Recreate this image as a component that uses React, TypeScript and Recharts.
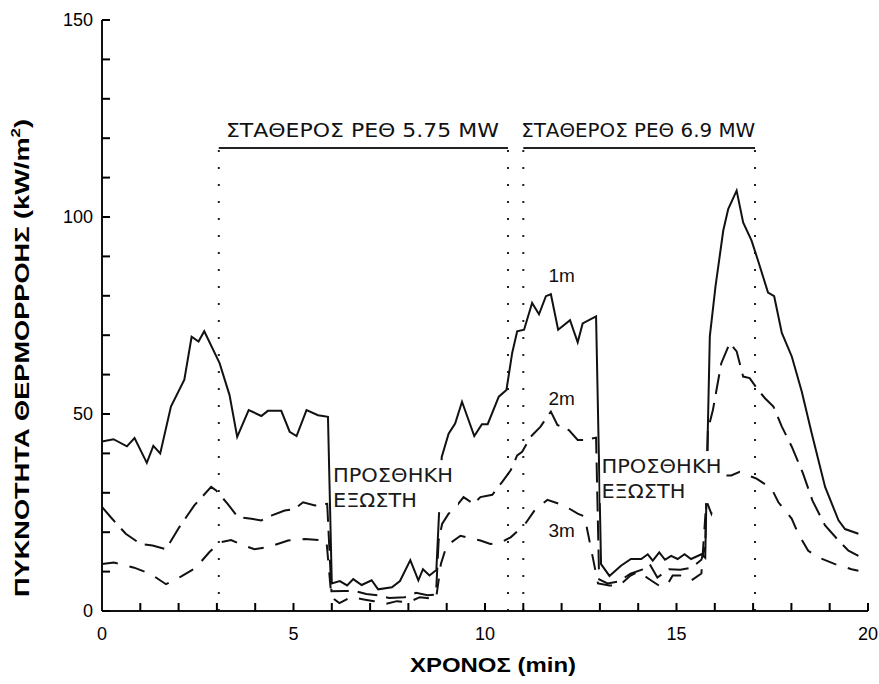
import React from "react";
import { LineChart, Line, XAxis, YAxis, ReferenceLine, ReferenceDot } from "recharts";

// time (min) and heat flux (kW/m2) at 1 m, 2 m and 3 m
const t1m = [0, 0.3, 0.65, 0.85, 1.17, 1.34, 1.52, 1.8, 2.15, 2.34, 2.52, 2.67, 3.07, 3.33, 3.53, 3.83, 4.16, 4.33, 4.68, 4.9, 5.08, 5.34, 5.64, 5.9, 6.0, 6.21, 6.4, 6.56, 6.78, 7.04, 7.21, 7.57, 7.78, 8.05, 8.26, 8.38, 8.55, 8.73, 8.87, 9.05, 9.22, 9.4, 9.72, 9.92, 10.07, 10.36, 10.56, 10.71, 10.84, 11.02, 11.23, 11.41, 11.59, 11.72, 11.91, 12.22, 12.42, 12.55, 12.9, 13.03, 13.25, 13.55, 13.81, 14.08, 14.25, 14.38, 14.55, 14.7, 14.86, 15.03, 15.21, 15.38, 15.65, 15.75, 15.81, 15.87, 16.02, 16.22, 16.35, 16.57, 16.74, 16.96, 17.13, 17.39, 17.55, 17.75, 18.01, 18.27, 18.53, 18.88, 19.23, 19.4, 19.75];
const q1m = [43, 43.6, 41.8, 43.9, 37.6, 41.9, 40, 51.9, 58.7, 69.6, 68.4, 71, 62.9, 54.8, 44.2, 51, 49.5, 50.8, 50.8, 45.5, 44.4, 51, 49.7, 49.3, 7, 7.6, 6.5, 8.1, 6.6, 7.8, 5.5, 6, 7.6, 12.9, 7.8, 10.6, 9, 10.4, 39.1, 45, 47.6, 53.1, 44.4, 47.4, 47.4, 54.4, 56.1, 65.5, 71, 71.4, 78.2, 75.3, 79.9, 80.4, 71.4, 73.8, 68.2, 73, 74.8, 11.9, 8.9, 11.5, 13.2, 13.2, 14.4, 12.8, 14.9, 13, 14, 13.2, 14.4, 13.2, 14.4, 13.5, 42.5, 69.7, 82.5, 96.5, 102, 106.7, 98.6, 94, 88.9, 80.8, 79.9, 70.6, 64.6, 55.7, 45.1, 31.5, 23, 20.8, 19.6];

const t2m = [0, 0.23, 0.62, 1.01, 1.32, 1.67, 2.02, 2.41, 2.85, 2.98, 3.28, 3.55, 3.9, 4.16, 4.42, 4.77, 5.03, 5.25, 5.56, 5.88, 5.99, 6.3, 6.6, 6.9, 7.2, 7.5, 7.9, 8.2, 8.5, 8.72, 8.79, 8.88, 9.05, 9.27, 9.44, 9.7, 9.88, 10.19, 10.45, 10.67, 10.84, 10.97, 11.19, 11.45, 11.72, 11.89, 12.19, 12.42, 12.59, 12.9, 12.98, 13.2, 13.5, 13.8, 14.1, 14.3, 14.5, 14.8, 15.1, 15.4, 15.65, 15.75, 15.82, 15.95, 16.17, 16.39, 16.57, 16.74, 16.91, 17.13, 17.31, 17.53, 17.75, 18.01, 18.3, 18.55, 18.88, 19.23, 19.49, 19.75];
const q2m = [26.4, 23.8, 19.6, 17, 16.6, 15.7, 21.3, 26.8, 31.5, 30.6, 27.2, 23.8, 23.4, 23, 24.2, 25.5, 25.9, 27.6, 26.8, 27.2, 5, 5.1, 5.1, 4.3, 4, 3.3, 3.5, 4.6, 4, 4.2, 17.9, 22.1, 24.7, 26.8, 28.9, 27.2, 28.9, 29.5, 32.8, 35.7, 39.5, 40.4, 44.2, 46.8, 50.6, 47.2, 45.9, 43.4, 43.4, 44, 8, 7, 7.5, 9.5, 10.5, 11.9, 8.5, 10.6, 10.5, 11, 13, 16.2, 45.9, 51, 62.9, 68, 65.9, 59.5, 59.1, 56.1, 54, 51.9, 46.8, 41.7, 35, 28, 21.7, 17.9, 15.3, 14];

const t3m = [0, 0.31, 0.84, 1.27, 1.67, 2.06, 2.45, 2.8, 3.07, 3.37, 3.6, 3.98, 4.33, 4.86, 5.3, 5.86, 5.99, 6.2, 6.5, 6.8, 7.1, 7.4, 7.7, 8.0, 8.3, 8.72, 8.85, 9.0, 9.36, 9.88, 10.14, 10.4, 10.67, 11.02, 11.32, 11.63, 12.06, 12.42, 12.6, 12.95, 13.25, 13.5, 13.8, 14.0, 14.3, 14.55, 14.75, 14.9, 15.1, 15.38, 15.65, 15.78, 15.91, 16.08, 16.22, 16.43, 16.65, 16.87, 17.09, 17.48, 17.66, 18.01, 18.18, 18.44, 18.7, 19.14, 19.57, 19.75];
const q3m = [11.9, 12.3, 11, 9.4, 6.8, 8.7, 11, 14.9, 17.4, 18, 17, 15.7, 16.2, 17.9, 18.3, 17.9, 3.5, 2, 3.5, 3, 2.5, 1.8, 2.5, 2.2, 3.5, 3, 12, 16.6, 19.1, 17.9, 17, 17.3, 18.7, 21.7, 25.9, 28.2, 26.8, 24.7, 24, 7, 6.5, 6.4, 9, 10, 8, 6.4, 6.5, 9, 9, 7.7, 9.5, 28, 24.7, 30.6, 34.4, 34.4, 35.3, 34.4, 33.6, 31.1, 27.6, 23.4, 19.6, 15.3, 13.6, 11.9, 10.6, 10.2];

const xTicks = [0, 1, 2, 3, 4, 5, 6, 7, 8, 9, 10, 11, 12, 13, 14, 15, 16, 17, 18, 19, 20];
const yTicks = [0, 10, 20, 30, 40, 50, 60, 70, 80, 90, 100, 110, 120, 130, 140, 150];

// phase markers: constant HRR periods and balcony added
const phaseStarts = [3.05, 11.0];
const phaseEnds = [10.6, 17.05];
const phaseTop = 117.5;
const phaseLabels = ["ΣΤΑΘΕΡΟΣ ΡΕΘ 5.75 MW", "ΣΤΑΘΕΡΟΣ ΡΕΘ 6.9 MW"];
const balconyAt = [
  { t: 6.03, q: 32.7 },
  { t: 13.04, q: 35.0 },
];
const depthLabels = [
  { name: "1m", t: 12.0, q: 83.5 },
  { name: "2m", t: 12.0, q: 52.3 },
  { name: "3m", t: 12.0, q: 18.8 },
];

const zip = (ts: number[], qs: number[]) => ts.map((t, i) => ({ t, q: qs[i] }));
const d1 = zip(t1m, q1m);
const d2 = zip(t2m, q2m);
const d3 = zip(t3m, q3m);

const INK = "#111";
const SANS = "'Liberation Sans', Arial, sans-serif";
const NOTE = "'DejaVu Sans', Verdana, sans-serif";
const TICK = 8;

// tick lines come from tickLine with a negative size (pointing inward),
// tickMargin puts the label anchor back on the axis line
const XTick = (props: any) => {
  const { x, y, payload } = props;
  const v = payload.value;
  if (v % 5 !== 0) return <g />;
  return (
    <text x={x} y={y + 29} textAnchor="middle" fontFamily={SANS} fontSize={18} fill="#000">
      {v}
    </text>
  );
};

const YTick = (props: any) => {
  const { x, y, payload } = props;
  const v = payload.value;
  if (v % 50 !== 0) return <g />;
  return (
    <text x={x - 9} y={y + 6} textAnchor="end" fontFamily={SANS} fontSize={18} fill="#000">
      {v}
    </text>
  );
};

const Titles = () => (
  <svg width={879} height={684} style={{ position: "absolute", left: 0, top: 0, pointerEvents: "none" }}>
    <text
      transform="translate(29,597) rotate(-90)"
      fontFamily={SANS}
      fontWeight="bold"
      fontSize={21}
      fill="#000"
      textLength={478}
      lengthAdjust="spacingAndGlyphs"
    >
      <tspan>ΠΥΚΝΟΤΗΤΑ ΘΕΡΜΟΡΡΟΗΣ (kW/m</tspan>
      <tspan fontSize={13} dy={-9}>2</tspan>
      <tspan dy={9}>)</tspan>
    </text>
    <text x={410} y={672} fontFamily={SANS} fontWeight="bold" fontSize={21} fill="#000" textLength={166} lengthAdjust="spacingAndGlyphs">
      ΧΡΟΝΟΣ (min)
    </text>
  </svg>
);

const PhaseLabel = (text: string, width: number) => (p: any) => (
  <text x={p.cx} y={p.cy - 11} textAnchor="middle" fontFamily={NOTE} fontSize={19} fill="#111" textLength={width} lengthAdjust="spacingAndGlyphs">
    {text}
  </text>
);

const BalconyNote = (p: any) => (
  <g>
    <rect x={p.cx - 1} y={p.cy - 22} width={126} height={52} fill="#fff" />
    <text x={p.cx} y={p.cy} fontFamily={NOTE} fontSize={19} fill="#1a1a1a" textLength={120} lengthAdjust="spacingAndGlyphs">
      ΠΡΟΣΘΗΚΗ
    </text>
    <text x={p.cx} y={p.cy + 25} fontFamily={NOTE} fontSize={19} fill="#1a1a1a" textLength={84} lengthAdjust="spacingAndGlyphs">
      ΕΞΩΣΤΗ
    </text>
  </g>
);

const DepthNote = (name: string) => (p: any) => (
  <text x={p.cx} y={p.cy} textAnchor="middle" fontFamily={SANS} fontSize={19} fill="#111">
    {name}
  </text>
);

export default function App() {
  return (
    <div style={{ position: "absolute", left: 0, top: 0, width: 879, height: 684, background: "#fff" }}>
      <LineChart width={879} height={684} margin={{ top: 20, right: 11, bottom: 0, left: 0 }}>
        <XAxis
          type="number"
          dataKey="t"
          domain={[0, 20]}
          ticks={xTicks}
          interval={0}
          tickSize={-TICK}
          tickMargin={TICK}
          tickLine={{ stroke: "#000", strokeWidth: 2 }}
          axisLine={{ stroke: INK, strokeWidth: 2 }}
          tick={XTick}
          height={73}
        />
        <XAxis xAxisId="top" orientation="top" type="number" domain={[0, 20]} height={0} tick={false} tickLine={false} axisLine={{ stroke: INK, strokeWidth: 2 }} />
        <YAxis
          type="number"
          dataKey="q"
          domain={[0, 150]}
          ticks={yTicks}
          interval={0}
          tickSize={-TICK}
          tickMargin={TICK}
          tickLine={{ stroke: "#000", strokeWidth: 2 }}
          axisLine={{ stroke: INK, strokeWidth: 2 }}
          tick={YTick}
          width={102}
        />
        <YAxis yAxisId="right" orientation="right" type="number" domain={[0, 150]} width={0} tick={false} tickLine={false} axisLine={{ stroke: INK, strokeWidth: 2 }} />
        {phaseStarts.map((t, i) => (
          <ReferenceLine key={"s" + i} segment={[{ x: t, y: 0 }, { x: t, y: phaseTop }]} stroke="#222" strokeWidth={2} strokeDasharray="2 15" />
        ))}
        {phaseEnds.map((t, i) => (
          <ReferenceLine key={"e" + i} segment={[{ x: t, y: 0 }, { x: t, y: phaseTop }]} stroke="#222" strokeWidth={2} strokeDasharray="2 15" />
        ))}
        {phaseStarts.map((t, i) => (
          <ReferenceLine key={"h" + i} segment={[{ x: t, y: phaseTop }, { x: phaseEnds[i], y: phaseTop }]} stroke="#222" strokeWidth={2} />
        ))}
        <Line data={d1} dataKey="q" type="linear" stroke={INK} strokeWidth={2} dot={false} isAnimationActive={false} />
        <Line data={d2} dataKey="q" type="linear" stroke={INK} strokeWidth={2} strokeDasharray="20 9" dot={false} isAnimationActive={false} />
        <Line data={d3} dataKey="q" type="linear" stroke={INK} strokeWidth={2} strokeDasharray="16 12" dot={false} isAnimationActive={false} />
        <ReferenceDot x={6.8} y={phaseTop} r={0} shape={PhaseLabel(phaseLabels[0], 273)} />
        <ReferenceDot x={14.0} y={phaseTop} r={0} shape={PhaseLabel(phaseLabels[1], 234)} />
        {balconyAt.map((b, i) => (
          <ReferenceDot key={"b" + i} x={b.t} y={b.q} r={0} shape={BalconyNote} />
        ))}
        {depthLabels.map((d) => (
          <ReferenceDot key={d.name} x={d.t} y={d.q} r={0} shape={DepthNote(d.name)} />
        ))}
      </LineChart>
      <Titles />
    </div>
  );
}
